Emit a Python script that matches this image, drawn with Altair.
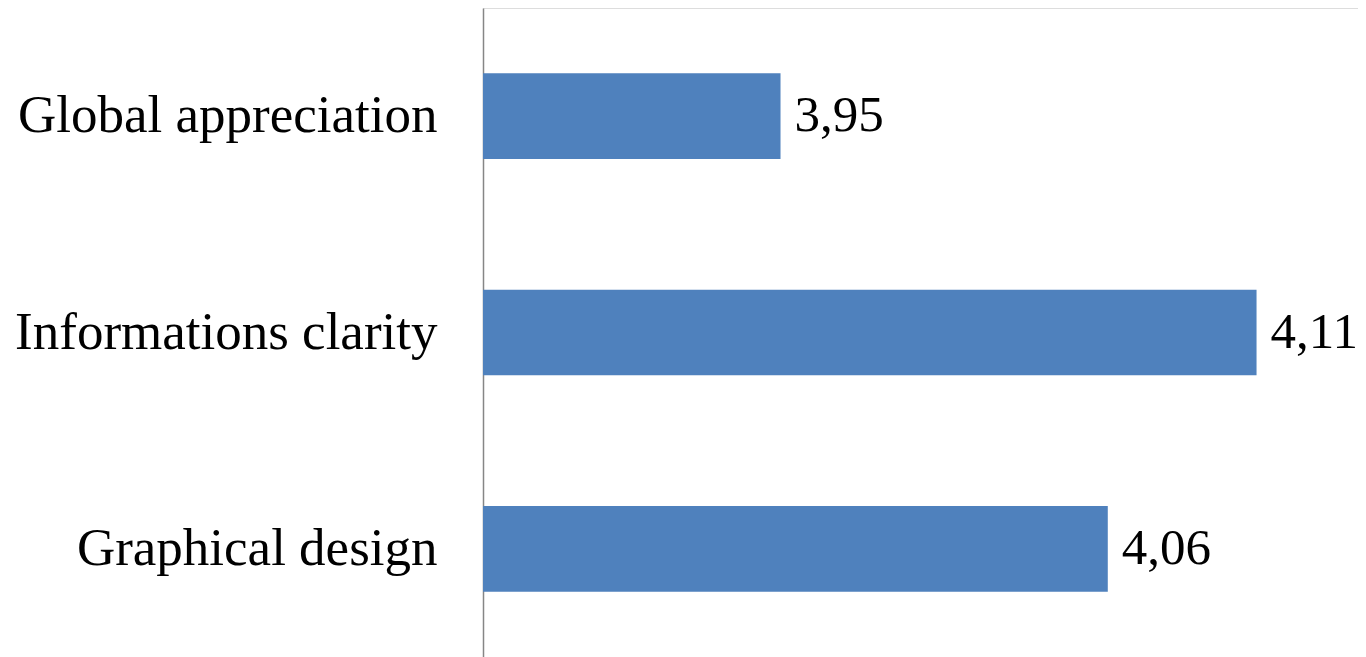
import altair as alt
import pandas as pd

categories = ["Global appreciation", "Informations clarity", "Graphical design"]
values = [3.95, 4.11, 4.06]
value_labels = ["3,95", "4,11", "4,06"]

df = pd.DataFrame({"category": categories, "value": values, "label": value_labels})

X_MIN = 3.85
X_MAX = 4.1441

x_scale = alt.Scale(domain=[X_MIN, X_MAX], zero=False, nice=False)
y_scale = alt.Scale(paddingInner=0.604, paddingOuter=0.302)
y_axis = alt.Axis(
    title=None,
    ticks=False,
    tickSize=0,
    tickOpacity=0,
    labelPadding=46,
    labelFont="Liberation Serif",
    labelFontSize=53,
    labelColor="#000000",
    labelLimit=600,
    domainColor="#868686",
    domainWidth=1.5,
    grid=False,
    gridOpacity=0,
    gridWidth=0,
)

bars = alt.Chart(df).mark_bar(color="#4F81BD").encode(
    x=alt.X("value:Q", scale=x_scale, axis=None),
    x2=alt.datum(X_MIN),
    y=alt.Y("category:N", sort=categories, scale=y_scale, axis=y_axis),
)

text = alt.Chart(df).mark_text(
    align="left", baseline="middle", dx=14,
    font="Liberation Serif", fontSize=51, color="#000000",
).encode(
    x=alt.X("value:Q", scale=x_scale, axis=None),
    y=alt.Y("category:N", sort=categories, scale=y_scale, axis=y_axis),
    text="label:N",
)

chart = (
    alt.layer(bars, text)
    .properties(
        width=875,
        height=649,
        autosize=alt.AutoSizeParams(type="none"),
        padding={"left": 475, "top": 0, "right": 0, "bottom": 0},
    )
    .configure_view(stroke=None, strokeWidth=0)
    .configure_axis(grid=False, gridOpacity=0, tickOpacity=0)
    .configure(background="#ffffff")
)

chart.save("out.html", embed_options={"renderer": "svg", "actions": False})
